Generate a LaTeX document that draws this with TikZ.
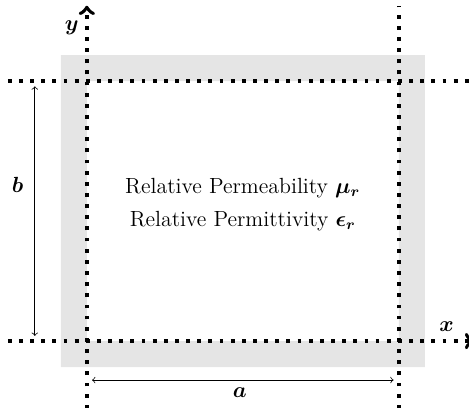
\documentclass[tikz,border=0pt]{standalone}
\usepackage{amsmath, amssymb, bm}
\usepackage{xcolor}
\usetikzlibrary{positioning}

\begin{document}
\begin{tikzpicture}[
		axis/.style={line width=2.1pt, loosely dotted},
		dim/.style={<->, thin},
		lbl/.style={inner sep=1pt, font=\large}
	]
	\useasboundingbox (-1.67,-1.27) rectangle (7.35,6.56);

	% Material frame
	\fill[gray!20, even odd rule] (-0.5,-0.5) rectangle (6.5,5.5) (0,0) rectangle (6,5);

	% Axes and walls
	\coordinate (O) at (0,0);
	\draw[axis, ->] (0,-1.3) -- (0,6.45);
	\draw[axis] (6,-1.3) -- (6,6.45);
	\draw[axis] (-1.52,5) -- (7.45,5);
	\draw[axis, ->] (-1.52,0) -- (7.45,0);
	\node[lbl] (ylbl) at (-0.29,6.02) {$\bm{y}$};
	\node[lbl] (xlbl) at (6.92,0.27) {$\bm{x}$};

	% Dimensions
	\coordinate (bbot) at (-1,0.1);
	\coordinate (btop) at (-1,4.9);
	\coordinate (aleft) at (0.1,-0.75);
	\coordinate (aright) at (5.9,-0.75);
	\draw[dim] (bbot) -- (btop);
	\draw[dim] (aleft) -- (aright);
	\node[lbl] (blbl) at (-1.33,3) {$\bm{b}$};
	\node[lbl] (albl) at (2.94,-1.0) {$\bm{a}$};

	% Material text
	\node[align=center, font=\large] (mat) at (3,2.63) {Relative Permeability $\bm{\mu_r}$\\[4pt] Relative Permittivity $\bm{\epsilon_r}$};

\end{tikzpicture}
\end{document}
